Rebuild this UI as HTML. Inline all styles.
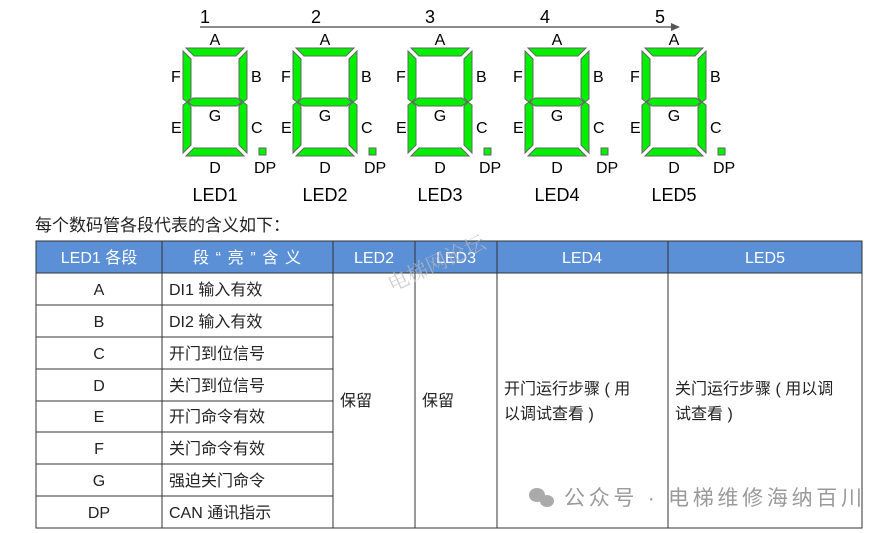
<!DOCTYPE html>
<html><head><meta charset="utf-8"><style>
html,body{margin:0;padding:0;background:#fff;width:893px;height:533px;overflow:hidden}
svg{display:block}
.l{font-family:"Liberation Sans",sans-serif;font-size:16px;fill:#000}
.c{font-family:"Liberation Sans","Noto Sans CJK SC",sans-serif;font-size:16px;fill:#222}
.h{font-family:"Liberation Sans","Noto Sans CJK SC",sans-serif;font-size:16px;fill:#fff}
</style></head><body>
<svg width="893" height="533" viewBox="0 0 893 533" xmlns="http://www.w3.org/2000/svg">
<defs>
<g id="dg" fill="#00f000" stroke="#666" stroke-width="1">
<polygon points="3,0 61,0 53,8 11,8"/>
<polygon points="0,3 8,11 8,50 4,54 0,51"/>
<polygon points="64,3 56,11 56,50 60,54 64,51"/>
<polygon points="5,54 10,50 54,50 59,54 54,58 10,58"/>
<polygon points="0,57 4,54 8,58 8,97 0,105"/>
<polygon points="64,57 60,54 56,58 56,97 64,105"/>
<polygon points="3,108 11,100 53,100 61,108"/>
<rect x="76" y="100" width="7" height="7"/>
</g>
<g id="lb">
<use href="#dg"/>
<text class="l" x="32" y="-3" text-anchor="middle">A</text>
<text class="l" x="-12" y="34">F</text><text class="l" x="68" y="34">B</text>
<text class="l" x="-12" y="85">E</text><text class="l" x="68" y="85">C</text>
<text class="l" x="32" y="73" text-anchor="middle">G</text>
<text class="l" x="32" y="125" text-anchor="middle">D</text>
<text class="l" x="71" y="125">DP</text>
</g>
</defs>
<line x1="200" y1="27" x2="672" y2="27" stroke="#666" stroke-width="1.5"/>
<polygon points="680,27 671,23 671,31" fill="#555"/>
<text x="200" y="23" class="l" style="font-size:18px">1</text>
<text x="311" y="23" class="l" style="font-size:18px">2</text>
<text x="425" y="23" class="l" style="font-size:18px">3</text>
<text x="540" y="23" class="l" style="font-size:18px">4</text>
<text x="655" y="23" class="l" style="font-size:18px">5</text>
<g transform="translate(183,48)"><use href="#lb"/><text class="l" x="32" y="153" text-anchor="middle" style="font-size:18px">LED1</text></g>
<g transform="translate(293,48)"><use href="#lb"/><text class="l" x="32" y="153" text-anchor="middle" style="font-size:18px">LED2</text></g>
<g transform="translate(408,48)"><use href="#lb"/><text class="l" x="32" y="153" text-anchor="middle" style="font-size:18px">LED3</text></g>
<g transform="translate(525,48)"><use href="#lb"/><text class="l" x="32" y="153" text-anchor="middle" style="font-size:18px">LED4</text></g>
<g transform="translate(642,48)"><use href="#lb"/><text class="l" x="32" y="153" text-anchor="middle" style="font-size:18px">LED5</text></g>
<text class="c" x="35" y="231" style="font-size:17px">每个数码管各段代表的含义如下：</text>
<rect x="36" y="241" width="826" height="32" fill="#5b8fd6"/>
<g stroke="#333" stroke-width="1" fill="none">
<rect x="36" y="241" width="826" height="287"/>
<line x1="36" y1="273" x2="862" y2="273"/>
<line x1="162" y1="241" x2="162" y2="528"/>
<line x1="333" y1="241" x2="333" y2="528"/>
<line x1="415" y1="241" x2="415" y2="528"/>
<line x1="497" y1="241" x2="497" y2="528"/>
<line x1="668" y1="241" x2="668" y2="528"/>
<line x1="36" y1="305" x2="333" y2="305"/>
<line x1="36" y1="337" x2="333" y2="337"/>
<line x1="36" y1="369" x2="333" y2="369"/>
<line x1="36" y1="401" x2="333" y2="401"/>
<line x1="36" y1="432" x2="333" y2="432"/>
<line x1="36" y1="464" x2="333" y2="464"/>
<line x1="36" y1="496" x2="333" y2="496"/>
</g>
<text x="99" y="263" class="h" text-anchor="middle">LED1 各段</text>
<text x="193" y="263" class="h" textLength="108" lengthAdjust="spacing">段“亮”含义</text>
<text x="374" y="263" class="h" text-anchor="middle">LED2</text>
<text x="456" y="263" class="h" text-anchor="middle">LED3</text>
<text x="582" y="263" class="h" text-anchor="middle">LED4</text>
<text x="765" y="263" class="h" text-anchor="middle">LED5</text>
<g text-anchor="middle">
<text class="c" x="99" y="295">A</text>
<text class="c" x="99" y="327">B</text>
<text class="c" x="99" y="359">C</text>
<text class="c" x="99" y="391">D</text>
<text class="c" x="99" y="422">E</text>
<text class="c" x="99" y="454">F</text>
<text class="c" x="99" y="486">G</text>
<text class="c" x="99" y="518">DP</text>
</g>
<text class="c" x="169" y="295">DI1 输入有效</text>
<text class="c" x="169" y="327">DI2 输入有效</text>
<text class="c" x="169" y="359">开门到位信号</text>
<text class="c" x="169" y="391">关门到位信号</text>
<text class="c" x="169" y="422">开门命令有效</text>
<text class="c" x="169" y="454">关门命令有效</text>
<text class="c" x="169" y="486">强迫关门命令</text>
<text class="c" x="169" y="518">CAN 通讯指示</text>
<text class="c" x="340" y="406">保留</text>
<text class="c" x="422" y="406">保留</text>
<text class="c" x="504" y="394">开门运行步骤 ( 用</text>
<text class="c" x="504" y="419">以调试查看 )</text>
<text class="c" x="675" y="394">关门运行步骤 ( 用以调</text>
<text class="c" x="675" y="419">试查看 )</text>
<text x="392" y="292" transform="rotate(-25 392 292)" style="font-family:'Noto Serif CJK SC',serif;font-size:21px;fill:#bbb;opacity:0.7">电梯网论坛</text>
<g fill="#aaa">
<ellipse cx="537" cy="495" rx="8" ry="7"/>
<ellipse cx="547" cy="501" rx="7" ry="6"/>
</g>
<text x="564" y="505" textLength="298" lengthAdjust="spacing" style="font-family:'Liberation Sans','Noto Sans CJK SC',sans-serif;font-size:21px;fill:#9a9a9a">公众号 · 电梯维修海纳百川</text>
</svg>
</body></html>
